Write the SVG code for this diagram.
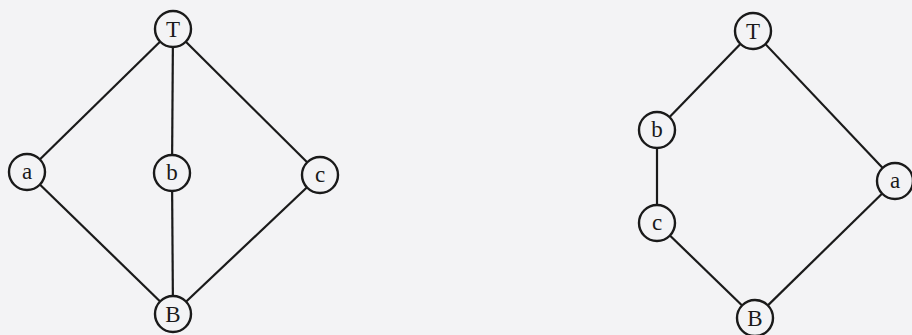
<svg xmlns="http://www.w3.org/2000/svg" width="912" height="335" viewBox="0 0 912 335">
<style>
.e{stroke:#1a1a1a;stroke-width:2.2;fill:none}
.n circle{fill:#f3f3f5;stroke:#1a1a1a;stroke-width:2.4}
.n text{font-family:"Liberation Serif","Times New Roman",serif;font-size:23px;fill:#1a1a1a;text-anchor:middle;dominant-baseline:central}
</style>
<rect width="912" height="335" fill="#f3f3f5"/>
<g id="connectors">
<line class="e" x1="173" y1="29" x2="27" y2="172"/>
<line class="e" x1="173" y1="29" x2="172" y2="173"/>
<line class="e" x1="173" y1="29" x2="320" y2="175"/>
<line class="e" x1="27" y1="172" x2="173" y2="314"/>
<line class="e" x1="172" y1="173" x2="173" y2="314"/>
<line class="e" x1="320" y1="175" x2="173" y2="314"/>
<line class="e" x1="753" y1="31" x2="657" y2="130"/>
<line class="e" x1="657" y1="130" x2="657" y2="223"/>
<line class="e" x1="657" y1="223" x2="755" y2="318"/>
<line class="e" x1="753" y1="31" x2="895" y2="181"/>
<line class="e" x1="895" y1="181" x2="755" y2="318"/>
</g>
<g id="L_T" class="n"><circle cx="173" cy="29" r="18"/><text x="173" y="29">T</text></g>
<g id="L_a" class="n"><circle cx="27" cy="172" r="18"/><text x="27" y="171">a</text></g>
<g id="L_b" class="n"><circle cx="172" cy="173" r="18"/><text x="172" y="172">b</text></g>
<g id="L_c" class="n"><circle cx="320" cy="175" r="18"/><text x="320" y="174">c</text></g>
<g id="L_B" class="n"><circle cx="173" cy="314" r="18"/><text x="173" y="314">B</text></g>
<g id="R_T" class="n"><circle cx="753" cy="31" r="18"/><text x="753" y="31">T</text></g>
<g id="R_b" class="n"><circle cx="657" cy="130" r="18"/><text x="657" y="129">b</text></g>
<g id="R_c" class="n"><circle cx="657" cy="223" r="18"/><text x="657" y="222">c</text></g>
<g id="R_a" class="n"><circle cx="895" cy="181" r="18"/><text x="895" y="180">a</text></g>
<g id="R_B" class="n"><circle cx="755" cy="318" r="18"/><text x="755" y="318">B</text></g>
</svg>
